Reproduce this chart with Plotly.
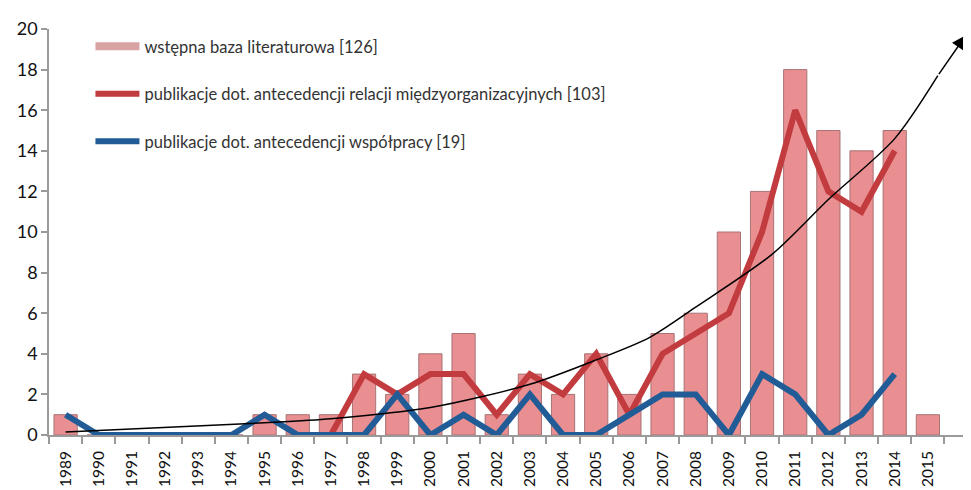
import plotly.graph_objects as go

years = list(range(1989, 2016))
baza = [1, 0, 0, 0, 0, 0, 1, 1, 1, 3, 2, 4, 5, 1, 3, 2, 4, 2, 5, 6, 10, 12, 18, 15, 14, 15, 1]
relacje = [None, None, None, None, None, None, None, None, 0, 3, 2, 3, 3, 1, 3, 2, 4, 1, 4, 5, 6, 10, 16, 12, 11, 14, None]
wspolpraca = [1, 0, 0, 0, 0, 0, 1, 0, 0, 0, 2, 0, 1, 0, 2, 0, 0, 1, 2, 2, 0, 3, 2, 0, 1, 3, None]

# hand-drawn trend arrow
trend_x = [1989, 1995, 1997, 2000, 2003, 2005, 2006.6, 2008, 2010.3, 2012, 2014, 2015.3]
trend_y = [0.15, 0.6, 0.8, 1.35, 2.5, 3.7, 4.8, 6.3, 8.9, 11.6, 14.6, 17.7]
arrow_tip = (2016.15, 19.7)

names = ["wstępna baza literaturowa [126]",
         "publikacje dot. antecedencji relacji międzyorganizacyjnych [103]",
         "publikacje dot. antecedencji współpracy [19]"]

PINK = "#E98E91"
PINK_EDGE = "#A77374"
RED = "#C23B3E"
BLUE = "#225C96"
FONT = "Lato"

fig = go.Figure()
fig.add_trace(go.Bar(x=years, y=baza, width=0.7, showlegend=False,
                     marker=dict(color=PINK, line=dict(color=PINK_EDGE, width=1))))
fig.add_trace(go.Scatter(x=[None], y=[None], mode="lines", name=names[0], legendgroup="a",
                         line=dict(color="#D9A3A4", width=8)))
fig.add_trace(go.Scatter(x=years, y=relacje, mode="lines", name=names[1], legendgroup="b",
                         line=dict(color=RED, width=6)))
fig.add_trace(go.Scatter(x=years, y=wspolpraca, mode="lines", name=names[2], legendgroup="c",
                         line=dict(color=BLUE, width=6)))
fig.add_trace(go.Scatter(x=trend_x, y=trend_y, mode="lines", showlegend=False,
                         line=dict(color="black", width=1.5, shape="spline", smoothing=0.8)))

fig.add_annotation(x=arrow_tip[0], y=arrow_tip[1], ax=trend_x[-1], ay=trend_y[-1],
                   xref="x", yref="y", axref="x", ayref="y", text="",
                   showarrow=True, arrowhead=2, arrowsize=1.9, arrowwidth=1.5, arrowcolor="black")

fig.update_layout(
    width=971, height=490,
    margin=dict(l=40, r=9, t=12, b=63),
    plot_bgcolor="white", paper_bgcolor="white",
    font=dict(family=FONT, color="#222"),
    legend=dict(x=0.045, y=1.0, xanchor="left", yanchor="top",
                font=dict(size=16.5, family=FONT, color="#333"),
                tracegroupgap=23, traceorder="grouped", bgcolor="rgba(0,0,0,0)",
                itemwidth=44),
    xaxis=dict(range=[1988.5, 2016.27], tickmode="array", tickvals=years,
               ticktext=[str(y) for y in years], tickangle=-90,
               tickfont=dict(size=15.5, family=FONT, color="#111"),
               ticks="outside", ticklen=8, tickcolor="rgba(0,0,0,0)",
               showline=True, linecolor="#9A9A9A", linewidth=1.5, showgrid=False, zeroline=False,
               minor=dict(tick0=1988.5, dtick=1, ticks="outside", ticklen=7, tickcolor="#9A9A9A",
                          tickwidth=1.5, showgrid=False)),
    yaxis=dict(range=[0, 20], dtick=2, tickfont=dict(size=18, family=FONT, color="#111"),
               ticks="outside", ticklen=6, tickcolor="#9A9A9A", tickwidth=1.5,
               showline=True, linecolor="#9A9A9A", linewidth=1.5, showgrid=False, zeroline=False),
)

fig.write_html("out.html")
